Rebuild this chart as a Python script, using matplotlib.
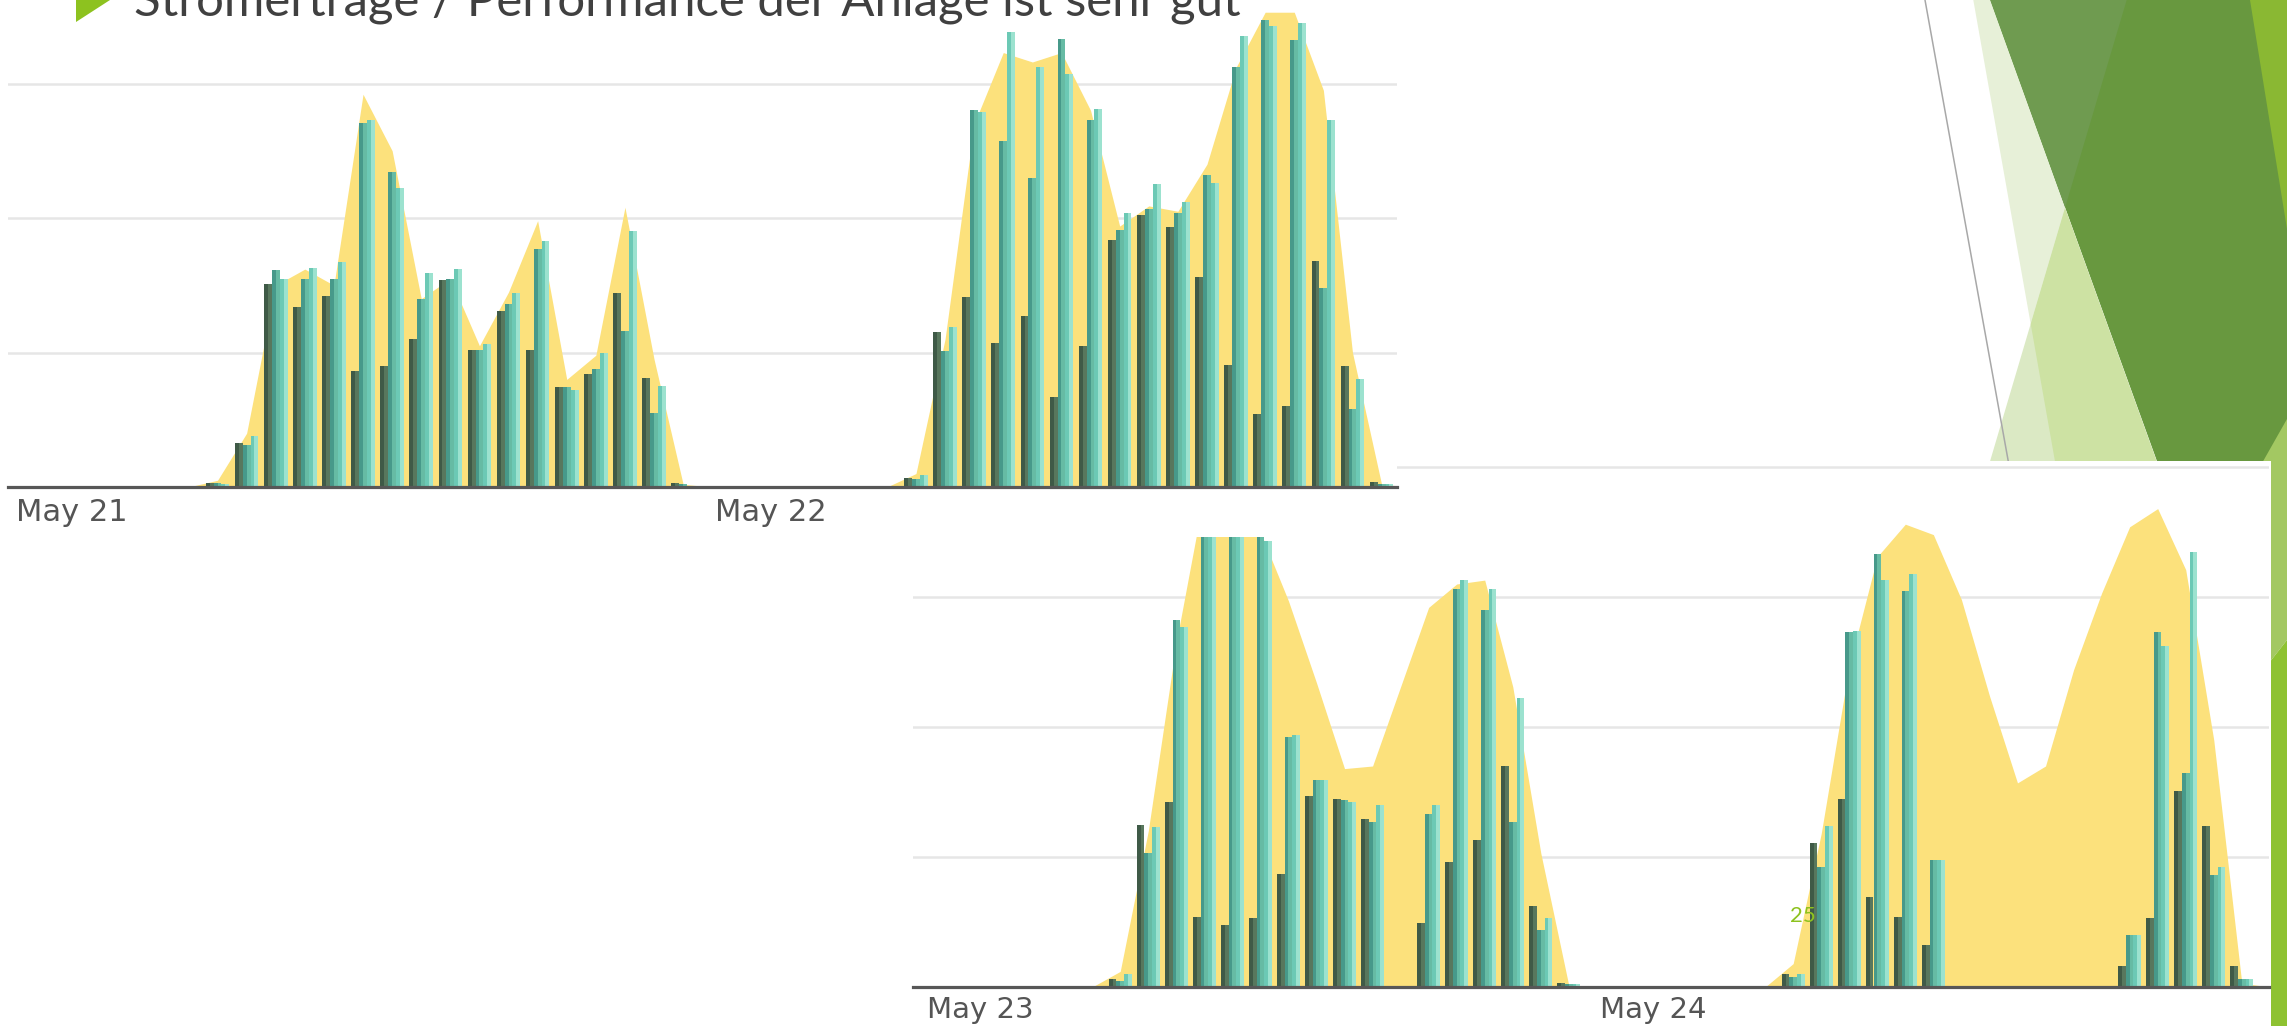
import numpy as np
import matplotlib
matplotlib.use("Agg")
import matplotlib.pyplot as plt
from matplotlib.patches import Polygon, Rectangle

# ---------------- data (hourly, hours 5..21) ----------------
hours = list(range(5, 22))

# upper chart: May 21 / May 22
may21_dark  = [0.03, 0.33, 1.51, 1.34, 1.42, 0.86, 0.90, 1.10, 1.54, 1.02, 1.31, 1.02, 0.74, 0.84, 1.44, 0.81, 0.03]
may21_teal  = [0.03, 0.31, 1.61, 1.55, 1.55, 2.71, 2.34, 1.40, 1.55, 1.02, 1.36, 1.77, 0.74, 0.88, 1.16, 0.55, 0.02]
may21_light = [0.02, 0.38, 1.55, 1.63, 1.67, 2.73, 2.22, 1.59, 1.62, 1.06, 1.44, 1.83, 0.72, 1.00, 1.90, 0.75, 0.01]
may21_area  = [0.05, 0.40, 1.50, 1.62, 1.50, 2.92, 2.50, 1.40, 1.55, 1.05, 1.45, 1.98, 0.80, 0.98, 2.08, 0.95, 0.02]

may22_dark  = [0.07, 1.15, 1.41, 1.07, 1.27, 0.67, 1.05, 1.84, 2.02, 1.93, 1.56, 0.91, 0.54, 0.60, 1.68, 0.90, 0.04]
may22_teal  = [0.06, 1.01, 2.80, 2.57, 2.30, 3.33, 2.73, 1.91, 2.07, 2.04, 2.32, 3.12, 3.47, 3.32, 1.48, 0.58, 0.02]
may22_light = [0.09, 1.19, 2.79, 3.38, 3.12, 3.07, 2.81, 2.04, 2.25, 2.12, 2.26, 3.35, 3.43, 3.45, 2.73, 0.80, 0.02]
may22_area  = [0.10, 1.10, 2.70, 3.23, 3.16, 3.23, 2.80, 1.94, 2.09, 2.05, 2.40, 3.12, 3.53, 3.53, 2.95, 1.00, 0.02]

# lower chart: May 23 / May 24
may23_dark  = [0.06, 1.25, 1.42, 0.54, 0.48, 0.53, 0.87, 1.47, 1.45, 1.29, 0.00, 0.49, 0.96, 1.13, 1.70, 0.62, 0.03]
may23_teal  = [0.05, 1.03, 2.82, 3.75, 3.75, 3.60, 1.92, 1.59, 1.44, 1.27, 0.00, 1.33, 3.06, 2.90, 1.27, 0.44, 0.02]
may23_light = [0.10, 1.23, 2.77, 3.70, 3.75, 3.43, 1.94, 1.59, 1.42, 1.40, 0.00, 1.40, 3.13, 3.06, 2.22, 0.53, 0.02]
may23_area  = [0.12, 1.20, 2.65, 3.80, 3.90, 3.50, 2.97, 2.34, 1.68, 1.70, 2.31, 2.92, 3.10, 3.13, 2.31, 1.03, 0.01]

may24_dark  = [0.10, 1.11, 1.45, 0.69, 0.54, 0.32, 0, 0, 0, 0, 0, 0, 0.16, 0.53, 1.51, 1.24, 0.16]
may24_teal  = [0.08, 0.92, 2.73, 3.33, 3.05, 0.98, 0, 0, 0, 0, 0, 0, 0.40, 2.73, 1.65, 0.86, 0.06]
may24_light = [0.10, 1.24, 2.74, 3.13, 3.18, 0.98, 0, 0, 0, 0, 0, 0, 0.40, 2.62, 3.35, 0.92, 0.06]
may24_area  = [0.18, 1.18, 2.47, 3.31, 3.56, 3.48, 2.98, 2.24, 1.57, 1.70, 2.44, 3.03, 3.54, 3.68, 3.21, 1.90, 0.03]

upper_days = ["May 21", "May 22"]
lower_days = ["May 23", "May 24"]
title = "Stromerträge / Performance der Anlage ist sehr gut"
page_no = "25"

# ---------------- style ----------------
W, H, DPI = 2287, 1026, 100
YELLOW = "#fce17c"
GRID = "#e6e6e6"
BASE = "#575757"
LABEL = "#555555"
BAR_COLORS = [("#3f5a47", "#58775d"),   # dark
              ("#47998a", "#66bba4"),   # teal
              ("#6cc9b5", "#9ce2cf")]   # light
BW = 0.27

fig = plt.figure(figsize=(W / DPI, H / DPI), dpi=DPI)
fig.patch.set_facecolor("white")


def px_axes(x0, y0, x1, y1, z):
    return fig.add_axes([x0 / W, 1 - y1 / H, (x1 - x0) / W, (y1 - y0) / H], zorder=z)


def lx(line, y):
    (xa, ya), (xb, yb) = line
    return xa + (xb - xa) * (y - ya) / (yb - ya)


# ---------------- decoration (slide theme) ----------------
deco = px_axes(0, 0, W, H, 0)
deco.set_xlim(0, W)
deco.set_ylim(H, 0)
deco.axis("off")

L1 = ((1973.3, 0), (2055.0, 461.4))
L2 = ((1990.0, 0), (2156.7, 461.4))
L3 = ((2126.7, 0), (1990.0, 461.4))
I23 = (2065.0, 207.9)
I13 = (2030.7, 324.0)
yb = 475
polys = [
    ([(1990, 0), (W, 0), (W, yb), (lx(L2, yb), yb)], "#68983f"),
    ([(1990, 0), (2126.7, 0), I23], "#6f9b50"),
    ([(1973.3, 0), (1990, 0), I23, I13], "#e7f0d8"),
    ([I23, (lx(L2, yb), yb), (lx(L3, yb), yb)], "#dbe9c4"),
    ([I13, (lx(L1, yb), yb), (lx(L2, yb), yb), I23], "#cde2a3"),
    ([(2250, 0), (W, 0), (W, 229)], "#8ab833"),
    ([(W, 419), (2240, 502), (2240, 700), (W, 640)], "#a3c862"),
    ([(2240, 700), (W, 640), (W, H), (2240, H)], "#8ec232"),
]
for pts, col in polys:
    deco.add_patch(Polygon(pts, closed=True, facecolor=col, edgecolor="none", zorder=1))
deco.plot([1925, 2008.3], [0, 461.4], color="#a8a8a8", lw=1.1, zorder=2)
deco.add_patch(Rectangle((911, 461), 2271 - 911, H - 461, facecolor="white",
                         edgecolor="none", zorder=5))


# ---------------- chart drawing ----------------
def draw_chart(ax, labels, darks, teals, lights, areas, xlim, ylim, grids, label_y, fs):
    ax.set_xlim(*xlim)
    ax.set_ylim(*ylim)
    ax.axis("off")
    for g in grids:
        ax.axhline(g, color=GRID, lw=1.8, zorder=0)
    xs, ys = [], []
    for d in range(len(labels)):
        off = 24 * d
        xs += [off + 4] + [off + h for h in hours] + [off + 22]
        ys += [0] + list(areas[d]) + [0]
    ax.fill_between(xs, ys, 0, color=YELLOW, lw=0, zorder=1)
    for d in range(len(labels)):
        x = np.array(hours, dtype=float) + 24 * d
        for k, vals in enumerate((darks[d], teals[d], lights[d])):
            c_left, c_right = BAR_COLORS[k]
            center = x + (k - 1) * BW
            ax.bar(center - BW / 4, vals, width=BW / 2, color=c_left, lw=0, zorder=2)
            ax.bar(center + BW / 4, vals, width=BW / 2, color=c_right, lw=0, zorder=2)
    ax.axhline(0, color=BASE, lw=2.3, zorder=3, clip_on=False)
    for d, lab in enumerate(labels):
        ax.text(24 * d, label_y, lab, transform=ax.get_xaxis_transform(), ha="center",
                va="top", fontsize=fs, color=LABEL, clip_on=False,
                family="DejaVu Sans")


# lower chart (drawn first, partly hidden by the upper one)
ax_lo = px_axes(913, 461, 2269, 987, 1)
draw_chart(ax_lo, lower_days,
           [may23_dark, may24_dark], [may23_teal, may24_teal],
           [may23_light, may24_light], [may23_area, may24_area],
           xlim=(-2.39, 45.97), ylim=(0, (987 - 461) / 130.0),
           grids=[1, 2, 3, 4], label_y=-9 / 526, fs=21)

# white cover of the upper screenshot
cover = px_axes(0, 0, 1397, 537, 2)
cover.set_xticks([])
cover.set_yticks([])
for s in cover.spines.values():
    s.set_visible(False)
cover.set_facecolor("white")

ax_up = px_axes(8, 0, 1397, 487, 3)
draw_chart(ax_up, upper_days,
           [may21_dark, may22_dark], [may21_teal, may22_teal],
           [may21_light, may22_light], [may21_area, may22_area],
           xlim=(-2.2, 45.53), ylim=(0, 487 / 134.5),
           grids=[1, 2, 3], label_y=-11 / 487, fs=22)

# ---------------- overlay: title, bullet, page number ----------------
top = px_axes(0, 0, W, H, 10)
top.set_xlim(0, W)
top.set_ylim(H, 0)
top.axis("off")
top.add_patch(Polygon([(76, -22), (76, 22), (110, 0)], closed=True,
                      facecolor="#8dc21f", edgecolor="none", clip_on=False))
t = top.text(134, 16, title, fontsize=40, color="#404040", va="baseline", ha="left",
             family="Lato")
r = fig.canvas.get_renderer()
w = t.get_window_extent(r).width
t.set_fontsize(40 * 1107 / w)
top.text(1790, 922, page_no, fontsize=16, color="#8dc21f", va="baseline", ha="left",
         family="Lato")

fig.savefig("out.png", dpi=DPI)
